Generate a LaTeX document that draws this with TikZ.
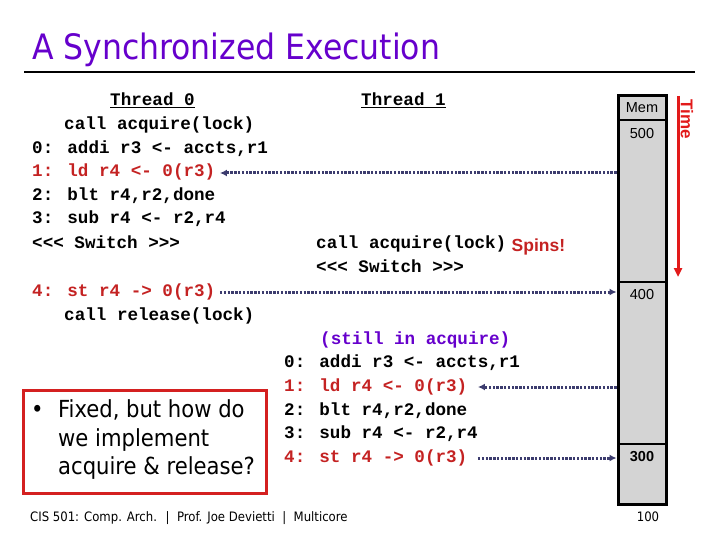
\documentclass[tikz,border=0pt]{standalone}
\usepackage{fontspec}
\setmainfont{DejaVu Sans Condensed}
\newfontfamily\codefont{Liberation Mono}
\newfontfamily\arialfont{Liberation Sans}
\usetikzlibrary{arrows.meta,positioning}
\definecolor{slidePurple}{HTML}{6600CC}
\definecolor{hotRed}{HTML}{C42222}
\definecolor{memSlate}{HTML}{3C3C6E}
\definecolor{memGray}{HTML}{D4D4D4}
\definecolor{boxRed}{HTML}{D42020}
\definecolor{timeRed}{HTML}{E21A1A}
\tikzset{
  code line/.style={anchor=west,inner sep=0pt,text height=12pt,text depth=4pt,
    font=\codefont\bfseries\fontsize{17.6}{20}\selectfont},
  hot line/.style={code line,text=hotRed},
  mem arrow/.style={-{Latex[length=7pt,width=7pt]},color=memSlate,
    line width=3pt,dash pattern=on 2.4pt off 1.4pt},
  mem cell/.style={inner sep=0pt,font=\arialfont\fontsize{14.5}{16}\selectfont},
  cell rule/.style={line width=2.5pt},
  time arrow/.style={-{Triangle[length=9pt,width=8pt]},draw=timeRed,line width=3pt},
  bullet line/.style={anchor=base west,inner sep=0pt,font=\fontsize{23.5}{28}\selectfont}
}

\begin{document}
\begin{tikzpicture}[x=1pt,y=-1pt]
  \useasboundingbox (0,0) rectangle (720,540);
  \node[anchor=base west,inner sep=0pt,font=\fontsize{35}{38}\selectfont,text=slidePurple]
    (title) at (32,60) {A Synchronized Execution};
  \draw[line width=2pt] (24,72.5) -- (695,72.5);

  \node[code line] (head0) at (110,102) {\underline{Thread 0}};
  \node[code line] (acq0) at (64,126) {call acquire(lock)};
  \node[code line] (addi0) at (32,150) {0: addi r3 <- accts,r1};
  \node[hot line] (ld0) at (32,173) {1: ld r4 <- 0(r3)};
  \node[code line] (blt0) at (32,197) {2: blt r4,r2,done};
  \node[code line] (sub0) at (32,220) {3: sub r4 <- r2,r4};
  \node[code line] (sw0) at (32,244) {<<< Switch >>>};
  \node[hot line] (st0) at (32,292) {4: st r4 -> 0(r3)};
  \node[code line] (rel0) at (64,316) {call release(lock)};

  \node[code line] (head1) at (361,102) {\underline{Thread 1}};
  \node[code line] (acq1) at (316,244) {call acquire(lock)};
  \node[anchor=west,inner sep=0pt,text=hotRed,yshift=-3pt,
    font=\arialfont\bfseries\fontsize{17.5}{20}\selectfont,right=5pt of acq1] (spin) {Spins!};
  \node[code line] (sw1) at (316,268) {<<< Switch >>>};
  \node[code line,text=slidePurple] (still1) at (320,340) {(still in acquire)};
  \node[code line] (addi1) at (284,363) {0: addi r3 <- accts,r1};
  \node[hot line] (ld1) at (284,387) {1: ld r4 <- 0(r3)};
  \node[code line] (blt1) at (284,411) {2: blt r4,r2,done};
  \node[code line] (sub1) at (284,434) {3: sub r4 <- r2,r4};
  \node[hot line] (st1) at (284,458) {4: st r4 -> 0(r3)};

  \node[draw,line width=3pt,fill=memGray,inner sep=0pt,minimum width=48pt,
    minimum height=408pt] (mem) at (642,300) {};
  \draw[cell rule] (618,120) -- (666,120);
  \draw[cell rule] (618,282) -- (666,282);
  \draw[cell rule] (618,444) -- (666,444);
  \node[mem cell] (memhead) at (642,108) {Mem};
  \node[mem cell] (v500) at (642,134) {500};
  \node[mem cell] (v400) at (642,295) {400};
  \node[mem cell,font=\arialfont\bfseries\fontsize{14.5}{16}\selectfont] (v300) at (642,457) {300};

  \draw[mem arrow] (mem.west |- ld0) -- ([xshift=4.5pt]ld0.east);
  \draw[mem arrow] ([xshift=4.5pt]st0.east) -- (mem.west |- st0);
  \draw[mem arrow] (mem.west |- ld1) -- ([xshift=10.5pt]ld1.east);
  \draw[mem arrow] ([xshift=10.5pt]st1.east) -- (mem.west |- st1);

  \coordinate (tTop) at (678,96);
  \coordinate (tBot) at (678,277);
  \draw[time arrow] (tTop) -- (tBot);
  \node[rotate=-90,inner sep=0pt,text=timeRed,
    font=\arialfont\bfseries\fontsize{17}{20}\selectfont] (timelbl) at (687,119) {Time};

  \node[draw=boxRed,line width=3pt,minimum width=243pt,minimum height=103pt,
    inner sep=0pt] (fixbox) at (144.5,441.5) {};
  \node[bullet line] (dot) at (31,417) {•};
  \node[bullet line] (fix1) at (58,417) {Fixed, but how do};
  \node[bullet line] (fix2) at (58,446) {we implement};
  \node[bullet line] (fix3) at (58,474) {acquire \& release?};

  \node[anchor=west,inner sep=0pt,font=\fontsize{13}{15}\selectfont] (footer) at (30,518)
    {CIS 501: Comp. Arch. \ | \ Prof. Joe Devietti \ | \ Multicore};
  \node[inner sep=0pt,font=\fontsize{13}{15}\selectfont] (slideno) at (648,517) {100};
\end{tikzpicture}
\end{document}
